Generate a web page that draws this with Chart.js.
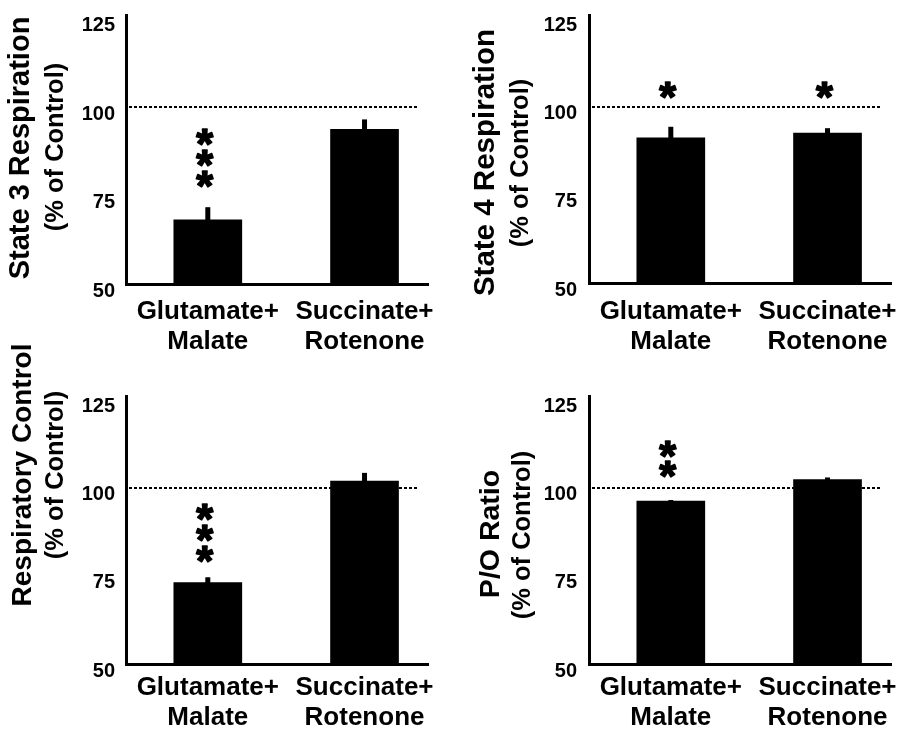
<!DOCTYPE html>
<html><head><meta charset="utf-8">
<script src="https://cdn.jsdelivr.net/npm/chart.js@4.4.0/dist/chart.umd.min.js"></script>
<style>
html,body{margin:0;padding:0;background:#fff;}
#wrap{position:relative;width:901px;height:731px;overflow:hidden;background:#fff;}
canvas{position:absolute;}
</style></head><body>
<div id="wrap">
<canvas id="c1" width="450" height="365" style="left:0;top:0"></canvas>
<canvas id="c2" width="451" height="365" style="left:450px;top:0"></canvas>
<canvas id="c3" width="450" height="401" style="left:0;top:330px"></canvas>
<canvas id="c4" width="451" height="401" style="left:450px;top:330px"></canvas>
</div>
<script>
// ---- data ----
const categories = [['Glutamate+', 'Malate'], ['Succinate+', 'Rotenone']];
const yTicks = [50, 75, 100, 125];
const controlLevel = 100;

const state3Title = ['State 3 Respiration', '(% of Control)'];
const state3Values = [68.1, 93.7];
const state3Err = [3.6, 2.8];
const state3Sig = ['***', ''];

const state4Title = ['State 4 Respiration', '(% of Control)'];
const state4Values = [91.2, 92.5];
const state4Err = [3.1, 1.4];
const state4Sig = ['*', '*'];

const rcTitle = ['Respiratory Control', '(% of Control)'];
const rcValues = [73.1, 101.9];
const rcErr = [1.5, 2.3];
const rcSig = ['***', ''];

const poTitle = ['P/O Ratio', '(% of Control)'];
const poValues = [96.2, 102.3];
const poErr = [0.3, 0.6];
const poSig = ['**', ''];

// ---- layout (pixels) ----
const FONT = '"Liberation Sans", Arial, sans-serif';
const panels = [
  {id:'c1', title:state3Title, values:state3Values, err:state3Err, sig:state3Sig,
   padTop:15, padRight:22, yW:126, xH:81, yPad:11, xPad:13,
   t1:[29,148], t2:[63,147], fs1:29, starBase:79.7, starStep:21},
  {id:'c2', title:state4Title, values:state4Values, err:state4Err, sig:state4Sig,
   padTop:15, padRight:10, yW:139, xH:82, yPad:12, xPad:14,
   t1:[44,162.5], t2:[78,163], fs1:29.5, starBase:104.7, starStep:21},
  {id:'c3', title:rcTitle, values:rcValues, err:rcErr, sig:rcSig,
   padTop:66, padRight:22, yW:126, xH:67, yPad:11, xPad:8.5,
   t1:[31,145], t2:[63,145], fs1:28, starBase:81.3, starStep:21},
  {id:'c4', title:poTitle, values:poValues, err:poErr, sig:poSig,
   padTop:66, padRight:10, yW:139, xH:67, yPad:12, xPad:8.5,
   t1:[49,204], t2:[80,205], fs1:28.5, starBase:105.3, starStep:20}
];

const decor = {
  id: 'decor',
  beforeDatasetsDraw(chart, args, o) {
    const ctx = chart.ctx, ca = chart.chartArea, y = chart.scales.y;
    const py = Math.round(y.getPixelForValue(controlLevel));
    ctx.save();
    ctx.strokeStyle = '#000';
    ctx.lineWidth = 2;
    ctx.setLineDash([3, 2]);
    ctx.beginPath();
    ctx.moveTo(ca.left + 3, py);
    ctx.lineTo(ca.right - 11, py);
    ctx.stroke();
    ctx.restore();
  },
  afterDatasetsDraw(chart, args, o) {
    const p = o.panel;
    const ctx = chart.ctx, y = chart.scales.y;
    const meta = chart.getDatasetMeta(0);
    ctx.save();
    ctx.fillStyle = '#000';
    ctx.strokeStyle = '#000';
    meta.data.forEach((bar, i) => {
      const top = y.getPixelForValue(p.values[i] + p.err[i]);
      const base = y.getPixelForValue(p.values[i]);
      ctx.fillRect(bar.x - 2.5, top, 5, base - top + 1);
    });
    // asterisks (text), sized so the glyph is ~17px tall
    ctx.font = 'bold 100px ' + FONT;
    const m0 = ctx.measureText('*');
    const size = 100 * 16.5 / (m0.actualBoundingBoxAscent + m0.actualBoundingBoxDescent);
    ctx.font = 'bold ' + size.toFixed(1) + 'px ' + FONT;
    ctx.textAlign = 'left';
    ctx.textBaseline = 'alphabetic';
    ctx.lineWidth = 1.6;
    ctx.lineJoin = 'round';
    const m = ctx.measureText('*');
    const asc = m.actualBoundingBoxAscent, desc = m.actualBoundingBoxDescent;
    const l = m.actualBoundingBoxLeft, r = m.actualBoundingBoxRight;
    meta.data.forEach((bar, i) => {
      const s = p.sig[i];
      for (let k = 0; k < s.length; k++) {
        const cy = y.getPixelForValue(p.starBase) - k * p.starStep;
        const cx = bar.x - 3;
        const tx = cx - (r + l) / 2 + l, ty = cy + (asc - desc) / 2;
        ctx.fillText('*', tx, ty);
        ctx.strokeText('*', tx, ty);
      }
    });
    ctx.restore();
  },
  afterDraw(chart, args, o) {
    const p = o.panel, ctx = chart.ctx;
    ctx.save();
    ctx.fillStyle = '#000';
    ctx.textAlign = 'center';
    ctx.textBaseline = 'alphabetic';
    [[p.title[0], p.t1, p.fs1], [p.title[1], p.t2, 25.5]].forEach(([txt, pos, fs]) => {
      ctx.save();
      ctx.translate(pos[0], pos[1]);
      ctx.rotate(-Math.PI / 2);
      ctx.font = 'bold ' + fs + 'px ' + FONT;
      ctx.fillText(txt, 0, 0);
      ctx.restore();
    });
    ctx.restore();
  }
};

panels.forEach(p => {
  new Chart(document.getElementById(p.id), {
    type: 'bar',
    data: {
      datasets: [{
        data: p.values.map((v, i) => ({x: i + 1, y: v})),
        backgroundColor: '#000',
        borderWidth: 0,
        barThickness: 68
      }]
    },
    options: {
      responsive: false,
      animation: false,
      devicePixelRatio: 1,
      layout: {padding: {top: p.padTop, right: p.padRight, left: 0, bottom: 0}},
      plugins: {legend: {display: false}, tooltip: {enabled: false}, decor: {panel: p}},
      scales: {
        x: {
          type: 'linear',
          offset: false,
          bounds: 'data',
          min: 0.478, max: 2.405,
          afterBuildTicks: s => { s.ticks = categories.map((c, i) => ({value: i + 1})); },
          afterFit: s => { s.height = p.xH; s.paddingLeft = 0; s.paddingRight = 0; },
          grid: {display: false, drawTicks: false, offset: false},
          border: {display: true, width: 3, color: '#000'},
          ticks: {
            callback: v => categories[Math.round(v) - 1],
            color: '#000', padding: p.xPad, maxRotation: 0, minRotation: 0, autoSkip: false,
            font: {family: FONT, size: 26, weight: 'bold', lineHeight: 30 / 26}
          }
        },
        y: {
          min: 50, max: 126,
          afterBuildTicks: s => { s.ticks = yTicks.map(v => ({value: v})); },
          afterFit: s => { s.width = p.yW; s.paddingTop = 0; s.paddingBottom = 0; },
          grid: {display: false, drawTicks: false},
          border: {display: true, width: 3, color: '#000'},
          ticks: {
            color: '#000', padding: p.yPad, labelOffset: 7,
            font: {family: FONT, size: 20, weight: 'bold'}
          }
        }
      }
    },
    plugins: [decor]
  });
});
</script>
</body></html>
